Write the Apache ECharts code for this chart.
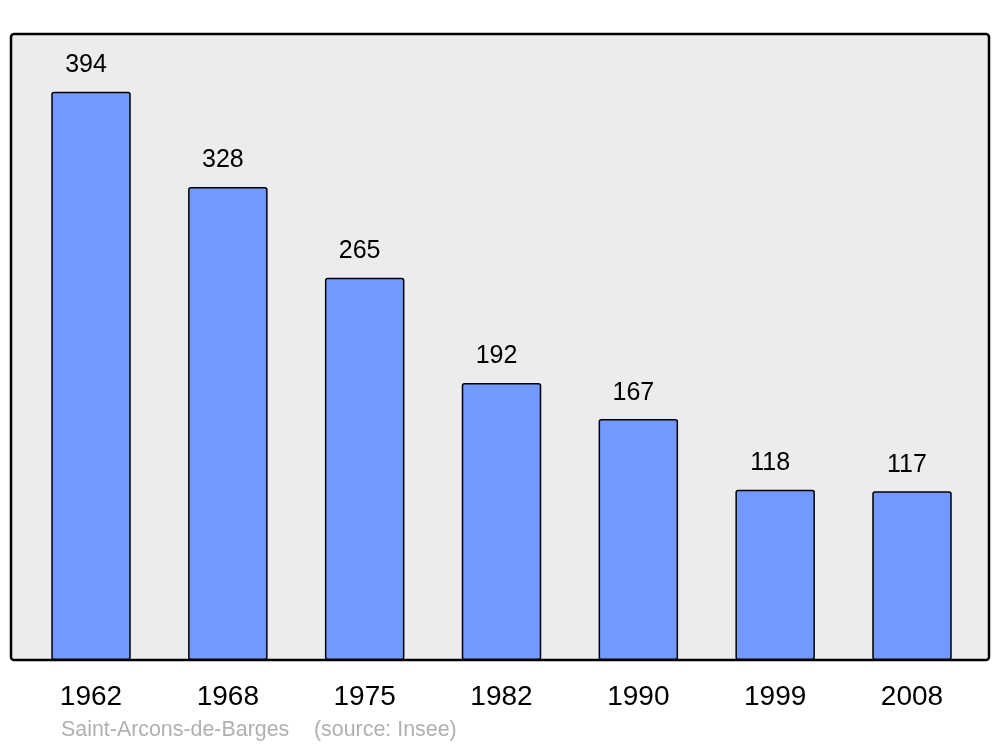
<!DOCTYPE html>
<html>
<head>
<meta charset="utf-8">
<script src="https://cdn.jsdelivr.net/npm/echarts@6/dist/echarts.min.js"></script>
<style>
  html, body { margin: 0; padding: 0; background: #fff; }
  #main { width: 1000px; height: 747px; }
</style>
</head>
<body>
<div id="main"></div>
<script>
// population par année
const years = ['1962', '1968', '1975', '1982', '1990', '1999', '2008'];
const population = [394, 328, 265, 192, 167, 118, 117];
const communeName = 'Saint-Arcons-de-Barges';
const sourceText = '(source: Insee)';

const chart = echarts.init(document.getElementById('main'));

const font = 'Liberation Sans, Arial, sans-serif';

const option = {
    animation: false,
    textStyle: { fontFamily: font },
    graphic: [
        {
            type: 'rect',
            z: -10,
            shape: { x: 11, y: 34, width: 978, height: 626, r: 3 },
            style: { fill: '#ececec', stroke: '#000', lineWidth: 2.5 }
        },
        {
            type: 'text',
            left: 61,
            top: 720,
            style: { text: communeName, fill: '#b0b0b0', fontSize: 21.4, fontFamily: font }
        },
        {
            type: 'text',
            left: 314,
            top: 720,
            style: { text: sourceText, fill: '#b0b0b0', fontSize: 21.4, fontFamily: font }
        }
    ],
    grid: { left: 22.6, right: 19.6, top: 34, bottom: 87 },
    xAxis: {
        type: 'category',
        data: years,
        axisLine: { show: false },
        axisTick: { show: false },
        axisLabel: { color: '#000', fontSize: 28, margin: 23 }
    },
    yAxis: {
        type: 'value',
        min: 0,
        max: 434,
        show: false,
        splitLine: { show: false }
    },
    series: [
        {
            type: 'bar',
            data: population,
            barWidth: 79.5,
            itemStyle: {
                color: '#7399ff',
                borderColor: '#000',
                borderWidth: 1.5,
                borderRadius: 2
            },
            label: {
                show: true,
                position: 'top',
                distance: 14,
                offset: [-5, 0],
                color: '#000',
                fontSize: 25
            }
        }
    ]
};

chart.setOption(option);
</script>
</body>
</html>
